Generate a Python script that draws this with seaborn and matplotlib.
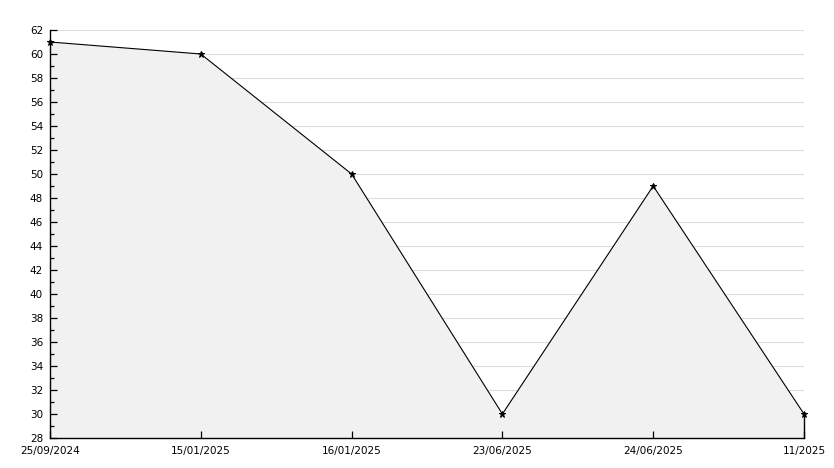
import numpy as np
import pandas as pd
import seaborn as sns
import matplotlib
matplotlib.use('Agg')
import matplotlib.pyplot as plt
from matplotlib.ticker import MultipleLocator

# dates shown on the x axis and the value at each
dates = ['25/09/2024', '15/01/2025', '16/01/2025', '23/06/2025', '24/06/2025', '11/2025']
values = [61, 60, 50, 30, 49, 30]
y_min, y_max = 28, 62

df = pd.DataFrame({'pos': np.arange(len(dates)), 'value': values})

sns.set_style('white')
plt.rcParams['font.family'] = ['DejaVu Sans']

fig = plt.figure(figsize=(8.34, 4.68), dpi=100)
ax = fig.add_axes([50 / 834, 30 / 468, 754 / 834, 408 / 468])

# shaded area under the line, closed on the right by a black edge
ax.fill_between(df['pos'], df['value'], y_min, facecolor='#f1f1f1', edgecolor='none', zorder=1)
ax.plot([df['pos'].iloc[-1]] * 2, [y_min, df['value'].iloc[-1]], color='black', lw=1.0,
        zorder=3, clip_on=False)

sns.lineplot(data=df, x='pos', y='value', ax=ax, color='black', lw=0.8,
             marker='*', markersize=5, markeredgecolor='black', zorder=4, clip_on=False)

ax.set_xlim(0, len(dates) - 1)
ax.set_ylim(y_min, y_max)
ax.set_xticks(df['pos'])
ax.set_xticklabels(dates)
ax.yaxis.set_major_locator(MultipleLocator(2))
ax.yaxis.set_minor_locator(MultipleLocator(1))
ax.set_xlabel('')
ax.set_ylabel('')
ax.set_axisbelow(False)

for y in np.arange(y_min + 2, y_max + 1, 2):
    ax.axhline(y, color='#dcdcdc', lw=0.8, zorder=0.5)

ax.tick_params(axis='both', which='both', labelsize=7.5, colors='black', direction='in')
ax.tick_params(axis='y', which='major', length=5, width=0.9, left=True, pad=5)
ax.tick_params(axis='y', which='minor', length=3, width=0.9, left=True)
ax.tick_params(axis='x', which='major', length=5, width=0.9, bottom=True, pad=6)

for side in ['top', 'right']:
    ax.spines[side].set_visible(False)
for side in ['left', 'bottom']:
    ax.spines[side].set_color('black')
    ax.spines[side].set_linewidth(1.0)
ax.set_facecolor('white')

plt.savefig('out.png', dpi=100)
